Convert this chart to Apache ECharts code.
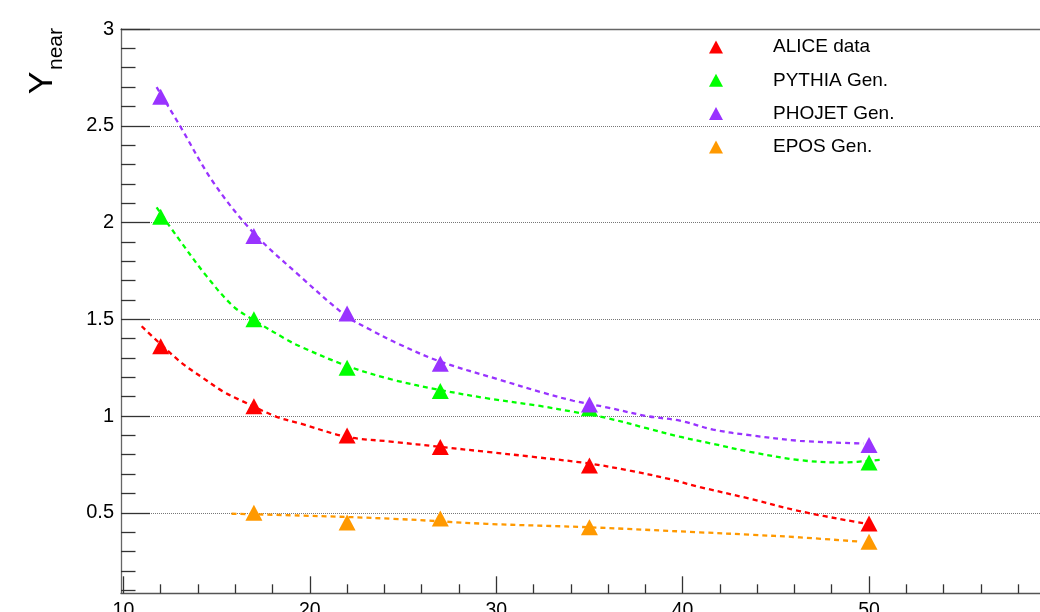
<!DOCTYPE html>
<html>
<head>
<meta charset="utf-8">
<script src="https://cdn.jsdelivr.net/npm/echarts@6/dist/echarts.min.js"></script>
<style>
html,body{margin:0;padding:0;background:#fff;}
#chart{width:1040px;height:612px;}
</style>
</head>
<body>
<div id="chart"></div>
<script>
// ---- data ----
const xPoints = [12, 17, 22, 27, 35, 50];
const aliceData  = [1.36, 1.05, 0.90, 0.84, 0.745, 0.445];
const pythiaData = [2.03, 1.50, 1.25, 1.13, 1.04, 0.76];
const phojetData = [2.65, 1.93, 1.53, 1.27, 1.06, 0.85];
const eposData   = [null, 0.50, 0.45, 0.47, 0.425, 0.35];

// fitted curves
const aliceFitX = [10.98, 13.03, 14.28, 15.36, 16.25, 18.22, 19.47, 21.97, 24.47, 26.98, 29.48, 31.99, 35.03, 37.17, 39.13, 40.93, 43.6, 46.3, 49.69];
const aliceFitY = [1.464, 1.282, 1.196, 1.126, 1.083, 0.996, 0.962, 0.893, 0.867, 0.841, 0.815, 0.789, 0.754, 0.718, 0.678, 0.633, 0.573, 0.508, 0.446];
const pythiaFitX = [11.78, 12.85, 14.46, 15.89, 16.96, 18.76, 19.47, 21.97, 24.47, 26.98, 29.48, 32.35, 34.13, 35.92, 38.07, 39.85, 41.64, 43.6, 46.3, 48.44, 50.76];
const pythiaFitY = [2.078, 1.931, 1.723, 1.567, 1.498, 1.395, 1.36, 1.26, 1.187, 1.135, 1.092, 1.052, 1.022, 0.99, 0.937, 0.893, 0.856, 0.815, 0.772, 0.76, 0.775];
const phojetFitX = [11.78, 13.03, 14.82, 16.96, 19.47, 21.97, 23.23, 24.66, 26.98, 30.2, 32.5, 34.13, 35.92, 38.07, 39.85, 41.64, 43.6, 46.3, 49.69];
const phojetFitY = [2.70, 2.50, 2.208, 1.949, 1.723, 1.516, 1.447, 1.377, 1.282, 1.187, 1.121, 1.079, 1.045, 1.0, 0.976, 0.93, 0.901, 0.872, 0.858];
const eposFitX = [15.8, 19.47, 24.47, 29.48, 35.03, 40.93, 43.6, 46.3, 49.5];
const eposFitY = [0.495, 0.486, 0.469, 0.443, 0.425, 0.399, 0.387, 0.373, 0.351];

const seriesNames = ['ALICE data', 'PYTHIA Gen.', 'PHOJET Gen.', 'EPOS Gen.'];
const seriesColors = ['#ff0000', '#00ff00', '#9933ff', '#ff9900'];

const xMajorTicks = [10, 20, 30, 40, 50, 60];
const xMinorTicks = [12, 14, 16, 18, 22, 24, 26, 28, 32, 34, 36, 38, 42, 44, 46, 48, 52, 54, 56, 58];
const yMajorTicks = [0.5, 1, 1.5, 2, 2.5, 3];
const yMinorTicks = [0.1, 0.2, 0.3, 0.4, 0.6, 0.7, 0.8, 0.9, 1.1, 1.2, 1.3, 1.4, 1.6, 1.7, 1.8, 1.9, 2.1, 2.2, 2.3, 2.4, 2.6, 2.7, 2.8, 2.9];

const X_MIN = 9.87, X_MAX = 60, Y_MIN = 0.084, Y_MAX = 3;

// ---- build ----
const FONT = 'Liberation Sans, Arial, Helvetica, sans-serif';
const pairs = (xs, ys) => xs.map((x, i) => [x, ys[i]]);
const pts = ys => xPoints.map((x, i) => [x, ys[i]]).filter(p => p[1] != null);

const markerData = [aliceData, pythiaData, phojetData, eposData];
const fits = [[aliceFitX, aliceFitY], [pythiaFitX, pythiaFitY], [phojetFitX, phojetFitY], [eposFitX, eposFitY]];

const series = [];
fits.forEach((f, i) => {
  series.push({
    name: seriesNames[i] + ' fit',
    type: 'line',
    xAxisIndex: 0, yAxisIndex: 0,
    data: pairs(f[0], f[1]),
    smooth: 0.35,
    showSymbol: false,
    symbol: 'none',
    silent: true,
    z: 2,
    lineStyle: { color: seriesColors[i], width: 2.3, type: [5, 4] }
  });
});
markerData.forEach((d, i) => {
  series.push({
    name: seriesNames[i],
    type: 'scatter',
    xAxisIndex: 0, yAxisIndex: 0,
    data: pts(d),
    symbol: 'triangle',
    symbolSize: [17, 16],
    itemStyle: { color: seriesColors[i], opacity: 1 },
    z: 3 + i
  });
});

const gridW = (X_MAX - X_MIN) * 18.64;

const option = {
  animation: false,
  backgroundColor: '#ffffff',
  grid: { left: 121, top: 29, width: gridW, height: 564.3, containLabel: false, outerBoundsMode: 'none' },
  legend: {
    orient: 'vertical',
    left: 704, top: 32,
    itemWidth: 14, itemHeight: 13, itemGap: 13.3,
    icon: 'triangle',
    data: seriesNames,
    selectedMode: false,
    textStyle: { fontSize: 19, lineHeight: 20, color: '#000', fontFamily: FONT, padding: [0, 0, 0, 45] }
  },
  xAxis: [
    {
      type: 'value', min: X_MIN, max: X_MAX, position: 'bottom',
      axisLine: { show: true, onZero: false, lineStyle: { color: '#555', width: 1.3 } },
      axisTick: { show: true, inside: true, length: 17, customValues: xMajorTicks, lineStyle: { color: '#333', width: 1.3 } },
      axisLabel: { show: true, customValues: xMajorTicks, margin: 7, fontSize: 19.5, color: '#000', fontFamily: FONT },
      splitLine: { show: false }
    },
    {
      type: 'value', min: X_MIN, max: X_MAX, position: 'bottom',
      axisLine: { show: false, onZero: false },
      axisTick: { show: true, inside: true, length: 9, customValues: xMinorTicks, lineStyle: { color: '#333', width: 1.3 } },
      axisLabel: { show: false },
      splitLine: { show: false }
    },
    {
      type: 'value', min: X_MIN, max: X_MAX, position: 'top',
      axisLine: { show: true, onZero: false, lineStyle: { color: '#666', width: 1.3 } },
      axisTick: { show: false },
      axisLabel: { show: false },
      splitLine: { show: false }
    }
  ],
  yAxis: [
    {
      type: 'value', min: Y_MIN, max: Y_MAX, position: 'left',
      axisLine: { show: true, onZero: false, lineStyle: { color: '#666', width: 1.3 } },
      axisTick: { show: true, inside: true, length: 29, customValues: yMajorTicks, lineStyle: { color: '#333', width: 1.3 } },
      axisLabel: { show: true, customValues: yMajorTicks, margin: 7, fontSize: 20, color: '#000', fontFamily: FONT },
      splitLine: { show: true, lineStyle: { color: '#777', width: 1, type: [1, 1] } }
    },
    {
      type: 'value', min: Y_MIN, max: Y_MAX, position: 'left',
      axisLine: { show: false, onZero: false },
      axisTick: { show: true, inside: true, length: 14.5, customValues: yMinorTicks, lineStyle: { color: '#333', width: 1.3 } },
      axisLabel: { show: false },
      splitLine: { show: false }
    }
  ],
  graphic: [
    {
      type: 'text', x: 43, y: 83, rotation: Math.PI / 2, silent: true,
      style: { text: 'Y', fontSize: 34, fontFamily: FONT, fill: '#000', textAlign: 'center', textVerticalAlign: 'middle', align: 'center', verticalAlign: 'middle' }
    },
    {
      type: 'text', x: 56, y: 49, rotation: Math.PI / 2, silent: true,
      style: { text: 'near', fontSize: 21, fontFamily: FONT, fill: '#000', textAlign: 'center', textVerticalAlign: 'middle', align: 'center', verticalAlign: 'middle' }
    }
  ],
  series: series
};

const chart = echarts.init(document.getElementById('chart'), null, { renderer: 'canvas' });
chart.setOption(option);
</script>
</body>
</html>
